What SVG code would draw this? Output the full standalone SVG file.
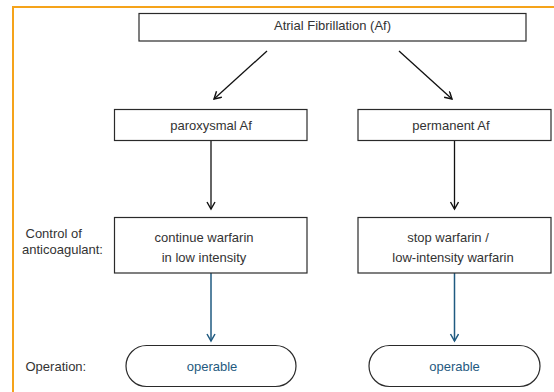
<svg xmlns="http://www.w3.org/2000/svg" width="554" height="392" viewBox="0 0 554 392">
<defs>
<style>
.box{fill:#fff;stroke:#2a2a2a;stroke-width:1.2}
.t{font-family:"Liberation Sans",Arial,sans-serif;font-size:13px;fill:#333;text-anchor:middle}
.lab{font-family:"Liberation Sans",Arial,sans-serif;font-size:13px;fill:#333}
text.blue{fill:#1f5a80}
.c{stroke:#111;stroke-width:1.3;fill:none}
.cb{stroke:#1f5a80;stroke-width:1.5;fill:none}
</style>
<marker id="ah" markerWidth="10" markerHeight="10" refX="8" refY="4.5" orient="auto" markerUnits="userSpaceOnUse">
<path d="M1,0.5 L8,4.5 L1,8.5" fill="none" stroke="#111" stroke-width="1.4"/>
</marker>
<marker id="ahb" markerWidth="10" markerHeight="10" refX="8" refY="4.5" orient="auto" markerUnits="userSpaceOnUse">
<path d="M1,0.5 L8,4.5 L1,8.5" fill="none" stroke="#1f5a80" stroke-width="1.5"/>
</marker>
</defs>
<rect width="554" height="392" fill="#fff"/>
<path d="M13,392 V7 H554" fill="none" stroke="#f5a31a" stroke-width="2"/>
<g id="connectors">
<line class="c" x1="267" y1="51" x2="214" y2="99" marker-end="url(#ah)"/>
<line class="c" x1="399" y1="51" x2="452" y2="99" marker-end="url(#ah)"/>
<line class="c" x1="211" y1="141" x2="211" y2="209" marker-end="url(#ah)"/>
<line class="c" x1="454.5" y1="141" x2="454.5" y2="209" marker-end="url(#ah)"/>
<line class="cb" x1="211" y1="273" x2="211" y2="341" marker-end="url(#ahb)"/>
<line class="cb" x1="454.5" y1="273" x2="454.5" y2="341" marker-end="url(#ahb)"/>
</g>
<g id="af"><rect class="box" x="139" y="13.5" width="387" height="27.5"/><text class="t" x="332.5" y="30">Atrial Fibrillation (Af)</text></g>
<g id="paroxysmal"><rect class="box" x="114.5" y="109.5" width="192.5" height="31"/><text class="t" x="211" y="129.5">paroxysmal Af</text></g>
<g id="permanent"><rect class="box" x="358" y="109.5" width="193" height="31"/><text class="t" x="451" y="129.5">permanent Af</text></g>
<g id="label-control"><text class="lab" x="25.5" y="238">Control of</text><text class="lab" x="22" y="254">anticoagulant:</text></g>
<g id="continue"><rect class="box" x="114.5" y="217.5" width="192.5" height="55.5"/><text class="t" x="204" y="242">continue warfarin</text><text class="t" x="204" y="262">in low intensity</text></g>
<g id="stop"><rect class="box" x="358" y="217.5" width="193" height="55.5"/><text class="t" x="448" y="242">stop warfarin /</text><text class="t" x="453" y="262">low-intensity warfarin</text></g>
<g id="label-operation"><text class="lab" x="25.5" y="371">Operation:</text></g>
<g id="operable1"><rect class="box" x="126" y="345.5" width="170" height="41" rx="20.5"/><text class="t blue" x="212" y="371">operable</text></g>
<g id="operable2"><rect class="box" x="369" y="345.5" width="171" height="41" rx="20.5"/><text class="t blue" x="454.5" y="371">operable</text></g>
</svg>
